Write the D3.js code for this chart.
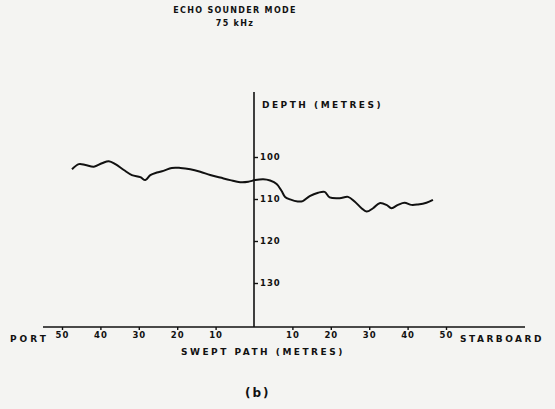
<!DOCTYPE html>
<html><head><meta charset="utf-8">
<script src="https://cdn.jsdelivr.net/npm/d3@7"></script>
<style>
html,body{margin:0;padding:0;background:#f4f4f2;}
svg{display:block;}
text{font-family:"DejaVu Sans",sans-serif;font-weight:bold;fill:#111;}
</style></head>
<body>
<script>
// Swept path distance (m; port negative, starboard positive)
const distance = [-47.4,-45.6,-43.9,-41.7,-39.6,-37.8,-36.1,-33.9,-31.8,-29.6,-28.3,-27.0,-25.3,-23.6,-21.4,-19.2,-16.6,-14.0,-11.4,-8.8,-6.2,-3.6,-1.5,0.3,2.4,4.2,5.9,7.2,8.1,9.4,11.4,12.7,14.5,16.7,18.4,19.7,22.3,24.5,26.2,28.0,29.3,31.0,32.7,34.5,35.8,37.5,39.2,41.0,42.7,44.9,46.6];
// Depth (m)
const depth = [102.9,101.7,101.9,102.3,101.5,101.0,101.7,103.1,104.3,104.8,105.5,104.3,103.7,103.3,102.6,102.6,102.9,103.5,104.3,104.9,105.5,106.0,105.9,105.5,105.3,105.6,106.4,108.1,109.5,110.1,110.6,110.5,109.3,108.5,108.3,109.6,109.8,109.5,110.6,112.2,113.0,112.2,111.0,111.4,112.2,111.4,110.9,111.4,111.3,110.9,110.2];
const xTicks = [-50,-40,-30,-20,-10,10,20,30,40,50];
const yTicks = [100,110,120,130];
const titleLines = ["ECHO SOUNDER MODE","75 kHz"];

const W=555,H=409;
const svg=d3.select("body").append("svg").attr("width",W).attr("height",H);

const x=d3.scaleLinear().domain([-50,50]).range([62,446]);
const y=d3.scaleLinear().domain([100,130]).range([157,283]);
const axisY=327;

// title
svg.selectAll("text.title").data(titleLines).join("text").attr("class","title")
  .attr("x",235).attr("y",(d,i)=>13+i*13).attr("text-anchor","middle")
  .attr("font-size",8).attr("letter-spacing",1.3).text(d=>d);

// horizontal axis line
svg.append("line").attr("x1",43).attr("x2",525).attr("y1",axisY).attr("y2",axisY)
  .attr("stroke","#111").attr("stroke-width",1.6);
// vertical axis line
svg.append("line").attr("x1",x(0)).attr("x2",x(0)).attr("y1",92).attr("y2",axisY)
  .attr("stroke","#111").attr("stroke-width",1.6);

// x axis
const gx=svg.append("g").attr("transform",`translate(0,${axisY})`)
  .call(d3.axisBottom(x).tickValues(xTicks).tickFormat(d=>Math.abs(d)).tickSize(3).tickPadding(2));
gx.select(".domain").remove();
gx.selectAll("line").attr("stroke","#111").attr("stroke-width",1.4);
gx.selectAll("text").attr("font-size",8.5).attr("letter-spacing",1).attr("font-family","DejaVu Sans").attr("font-weight","bold").attr("fill","#111");

// y axis
const gy=svg.append("g").attr("transform",`translate(${x(0)},0)`)
  .call(d3.axisRight(y).tickValues(yTicks).tickSize(4).tickPadding(2));
gy.select(".domain").remove();
gy.selectAll("line").attr("stroke","#111").attr("stroke-width",1.4);
gy.selectAll("text").attr("font-size",8.5).attr("letter-spacing",1).attr("font-family","DejaVu Sans").attr("font-weight","bold").attr("fill","#111");

// axis labels
svg.append("text").attr("x",262).attr("y",108).attr("font-size",9).attr("letter-spacing",2.5).text("DEPTH (METRES)");
svg.append("text").attr("x",10).attr("y",342).attr("font-size",9).attr("letter-spacing",3).text("PORT");
svg.append("text").attr("x",460).attr("y",342).attr("font-size",9).attr("letter-spacing",2.5).text("STARBOARD");
svg.append("text").attr("x",181).attr("y",355).attr("font-size",9).attr("letter-spacing",2.5).text("SWEPT PATH (METRES)");
svg.append("text").attr("x",245).attr("y",397).attr("font-size",12).attr("letter-spacing",2).text("(b)");

// profile
const pts=distance.map((d,i)=>[d,depth[i]]);
svg.append("path").datum(pts)
  .attr("d",d3.line().x(d=>x(d[0])).y(d=>y(d[1])).curve(d3.curveCatmullRom))
  .attr("fill","none").attr("stroke","#111").attr("stroke-width",2);
</script>
</body></html>
